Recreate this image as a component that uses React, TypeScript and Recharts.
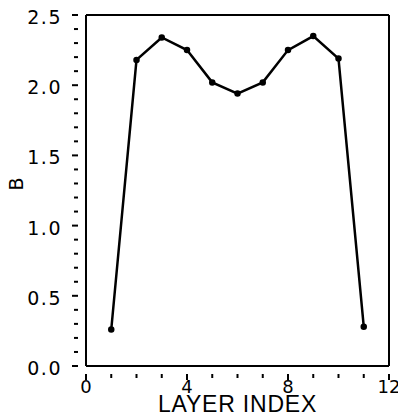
import React from "react";
import { LineChart, Line, XAxis, YAxis, ReferenceLine } from "recharts";

const layerIndex = [1, 2, 3, 4, 5, 6, 7, 8, 9, 10, 11];
const bValues = [0.26, 2.18, 2.34, 2.25, 2.02, 1.94, 2.02, 2.25, 2.35, 2.19, 0.28];
const xTicks = [0, 1, 2, 3, 4, 5, 6, 7, 8, 9, 10, 11, 12];
const xLabelTicks = [0, 4, 8, 12];
const yTicks = Array.from({ length: 26 }, (_, i) => Math.round(i * 10) / 100);
const yLabelTicks = [0, 0.5, 1, 1.5, 2, 2.5];

const data = layerIndex.map((x, i) => ({ x, b: bValues[i] }));

const FONT = "'DejaVu Sans', sans-serif";

function XTick(props: any) {
  const { x, y, payload } = props;
  const v = payload.value;
  const major = xLabelTicks.includes(v);
  return (
    <g>
      <line x1={x} y1={y} x2={x} y2={y + (major ? 6 : 4)} stroke="#000" strokeWidth={2} />
      {major && (
        <text x={x} y={y + 19} textAnchor="middle" fontSize={18} fontFamily={FONT} fill="#000">
          {v}
        </text>
      )}
    </g>
  );
}

function YTick(props: any) {
  const { x, y, payload } = props;
  const v = payload.value;
  const major = yLabelTicks.some((t) => Math.abs(t - v) < 1e-6);
  return (
    <g>
      <line x1={x} y1={y} x2={x - (major ? 6 : 4)} y2={y} stroke="#000" strokeWidth={2} />
      {major && (
        <text
          x={x - 16}
          y={y + 9}
          textAnchor="end"
          fontSize={19}
          fontFamily={FONT}
          letterSpacing={1.5}
          fill="#000"
        >
          {v.toFixed(1)}
        </text>
      )}
    </g>
  );
}

export default function App() {
  return (
    <div style={{ position: "absolute", left: 0, top: 0, background: "#fff" }}>
      <LineChart
        width={398}
        height={416}
        data={data}
        margin={{ top: 15, right: 9, left: 26, bottom: 0 }}
      >
        <XAxis
          dataKey="x"
          type="number"
          domain={[0, 12]}
          ticks={xTicks}
          interval={0}
          height={50}
          stroke="#000"
          strokeWidth={2}
          tickLine={false}
          tick={<XTick />}
          label={{
            value: "LAYER INDEX",
            position: "insideBottom",
            offset: 4,
            fontSize: 23,
            letterSpacing: 0.8,
            fontFamily: "'Liberation Sans', sans-serif",
            fill: "#000",
          }}
        />
        <YAxis
          type="number"
          domain={[0, 2.5]}
          ticks={yTicks}
          interval={0}
          width={60}
          stroke="#000"
          strokeWidth={2}
          tickLine={false}
          tick={<YTick />}
          label={{
            value: "B",
            angle: -90,
            position: "insideLeft",
            offset: 0,
            dx: -10,
            fontSize: 19,
            fontFamily: FONT,
            fill: "#000",
          }}
        />
        <ReferenceLine y={2.5} stroke="#000" strokeWidth={2} />
        <ReferenceLine x={12} stroke="#000" strokeWidth={2} />
        <Line
          type="linear"
          dataKey="b"
          stroke="#000"
          strokeWidth={2.5}
          dot={{ r: 2, fill: "#000", stroke: "#000" }}
          isAnimationActive={false}
        />
      </LineChart>
    </div>
  );
}
